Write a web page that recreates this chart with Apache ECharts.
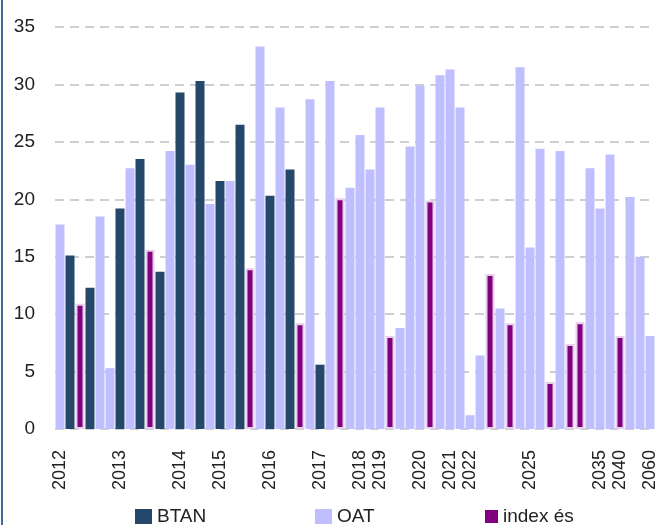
<!DOCTYPE html>
<html>
<head>
<meta charset="utf-8">
<script src="https://cdn.jsdelivr.net/npm/echarts@6/dist/echarts.min.js"></script>
<style>
  html, body { margin: 0; padding: 0; background: #fff; }
  #chart { width: 659px; height: 525px; }
</style>
</head>
<body>
<div id="chart"></div>
<script>
// one slot per bond line, year label on the first line of that year
const tickLabels = [
  '2012', '', '', '', '', '', '2013', '', '', '', '', '', '2014', '', '', '',
  '2015', '', '', '', '', '2016', '', '', '', '', '2017', '', '', '',
  '2018', '', '2019', '', '', '', '2020', '', '', '2021', '', '2022', '', '', '', '',
  '', '2025', '', '', '', '', '', '', '2035', '', '2040', '', '', '2060'
]
const btan = [
  null, 15.1, null, 12.3, null, null, 19.2, null, 23.5, null, 13.7, null, 29.3, null, 30.3, null,
  21.6, null, 26.5, null, null, 20.3, null, 22.6, null, null, 5.6, null, null, null,
  null, null, null, null, null, null, null, null, null, null, null, null, null, null, null, null,
  null, null, null, null, null, null, null, null, null, null, null, null, null, null
]
const oat = [
  17.8, null, null, null, 18.5, 5.3, null, 22.7, null, null, null, 24.2, null, 23.0, null, 19.6,
  null, 21.6, null, null, 33.3, null, 28.0, null, null, 28.7, null, 30.3, null, 21.0,
  25.6, 22.6, 28.0, null, 8.8, 24.6, 29.9, null, 30.8, 31.3, 28.0, 1.2, 6.4, null, 10.5, null,
  31.5, 15.8, 24.4, null, 24.2, null, null, 22.7, 19.2, 23.9, null, 20.2, 15.0, 8.1
]
const indexes = [
  null, null, 10.9, null, null, null, null, null, null, 15.6, null, null, null, null, null, null,
  null, null, null, 14.0, null, null, null, null, 9.2, null, null, null, 20.1, null,
  null, null, null, 8.1, null, null, null, 19.9, null, null, null, null, null, 13.5, null, 9.2,
  null, null, null, 4.1, null, 7.4, 9.3, null, null, null, 8.1, null, null, null
]

const font = '"Liberation Sans", Arial, sans-serif'
const chart = echarts.init(document.getElementById('chart'))

function legendAt(name, left, w, h){
  return {
    left: left,
    top: 507,
    padding: 0,
    icon: 'rect',
    itemWidth: w,
    itemHeight: h,
    itemGap: 6,
    itemStyle: { borderWidth: 0 },
    textStyle: { fontSize: 19, color: '#222', fontFamily: font },
    data: [name]
  }
}

chart.setOption({
  animation: false,
  textStyle: { fontFamily: font },
  graphic: [{
    type: 'line',
    shape: { x1: 2, y1: 0, x2: 2, y2: 525 },
    style: { stroke: '#3f6b9b', lineWidth: 2 }
  }],
  legend: [
    legendAt('BTAN', 135, 17, 15),
    legendAt('OAT', 315, 17, 15),
    legendAt('index és', 485, 13, 13)
  ],
  grid: { left: 55, right: 2, top: 27, bottom: 96 },
  xAxis: {
    type: 'category',
    data: tickLabels,
    axisLine: { show: false },
    axisTick: { show: false },
    axisLabel: {
      interval: 0,
      rotate: 90,
      margin: 21,
      fontSize: 18,
      color: '#222',
      fontFamily: font
    }
  },
  yAxis: {
    type: 'value',
    min: 0,
    max: 35,
    interval: 5,
    axisLine: { show: false },
    axisTick: { show: false },
    axisLabel: { fontSize: 19, color: '#222', margin: 20, fontFamily: font },
    splitLine: { lineStyle: { color: '#cfcfcf', type: [9, 6], width: 2 } }
  },
  series: [
    {
      name: 'BTAN', type: 'bar', stack: 'all', barWidth: 9,
      itemStyle: { color: '#25476a' },
      data: btan
    },
    {
      name: 'OAT', type: 'bar', stack: 'all', barWidth: 9,
      itemStyle: { color: '#bfbfff' },
      data: oat
    },
    {
      name: 'index és', type: 'bar', stack: 'all', barWidth: 9,
      itemStyle: { color: '#800080', borderColor: '#e6cfe9', borderWidth: 2 },
      data: indexes
    }
  ]
})
</script>
</body>
</html>
